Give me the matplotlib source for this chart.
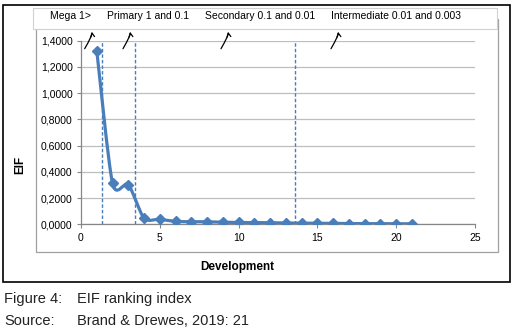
import numpy as np
import matplotlib
matplotlib.use("Agg")
import matplotlib.pyplot as plt
from matplotlib.path import Path
from matplotlib.patches import PathPatch, Rectangle
from matplotlib.ticker import FuncFormatter

plt.rcParams['font.family'] = ['Liberation Sans', 'DejaVu Sans']

# data
development = [1, 2, 3, 4, 5, 6, 7, 8, 9, 10, 11, 12, 13, 14, 15, 16, 17, 18, 19, 20, 21]
eif = [1.323, 0.312, 0.303, 0.046, 0.038, 0.022, 0.020, 0.019, 0.016, 0.014, 0.013,
       0.012, 0.010, 0.009, 0.008, 0.007, 0.006, 0.005, 0.005, 0.004, 0.004]
boundaries = [1.33, 3.43, 13.6]
bands = ["Mega 1>", "Primary 1 and 0.1", "Secondary 0.1 and 0.01", "Intermediate 0.01 and 0.003"]
x_ticks = [0, 5, 10, 15, 20, 25]
y_ticks = [0, 0.2, 0.4, 0.6, 0.8, 1.0, 1.2, 1.4]

W, H = 519, 336
BLUE = '#4A7EBB'


def fx(px):
    return px / W


def fy(py):
    return 1 - py / H


fig = plt.figure(figsize=(W / 100, H / 100), dpi=100)
fig.patch.set_facecolor('white')

# outer black frame and the grey chart-area box
fig.add_artist(Rectangle((fx(3), fy(282)), fx(510) - fx(3), fy(5) - fy(282),
                         transform=fig.transFigure, fill=False, edgecolor='black', lw=1.2))
fig.add_artist(Rectangle((fx(36), fy(252)), fx(498) - fx(36), fy(19) - fy(252),
                         transform=fig.transFigure, fill=False, edgecolor='#A0A0A0', lw=0.9))
# header text box
fig.add_artist(Rectangle((fx(33), fy(29)), fx(497) - fx(33), fy(8) - fy(29),
                         transform=fig.transFigure, facecolor='white', edgecolor='#D0D0D0', lw=0.8))

ax = fig.add_axes([fx(81), fy(224.3), fx(475) - fx(81), fy(40.5) - fy(224.3)])
ax.set_xlim(0, 25)
ax.set_ylim(0, 1.4)
ax.set_xticks(x_ticks)
ax.set_yticks(y_ticks)
ax.yaxis.set_major_formatter(FuncFormatter(lambda v, p: f"{v:.4f}".replace('.', ',')))
ax.tick_params(labelsize=7.5, colors='#868686', labelcolor='black', length=3, width=0.8, pad=3)
for s in ['top', 'right']:
    ax.spines[s].set_visible(False)
for s in ['left', 'bottom']:
    ax.spines[s].set_color('#868686')
    ax.spines[s].set_linewidth(0.9)
ax.grid(axis='y', color='#BEBEBE', lw=0.9)
ax.set_axisbelow(True)
ax.patch.set_alpha(0)

for b in boundaries:
    ax.axvline(b, color=BLUE, ls=(0, (2.5, 1.5)), lw=1.0)

# Excel-style smoothed line using Bezier segments through the data points
xs = np.array(development, dtype=float)
ys = np.array(eif, dtype=float)
verts = [(xs[0], ys[0])]
codes = [Path.MOVETO]
t = 1 / 8
for i in range(len(xs) - 1):
    p0 = (xs[i - 1], ys[i - 1]) if i > 0 else (xs[i], ys[i])
    p1 = (xs[i], ys[i])
    p2 = (xs[i + 1], ys[i + 1])
    p3 = (xs[i + 2], ys[i + 2]) if i + 2 < len(xs) else p2
    c1 = (p1[0] + (p2[0] - p0[0]) * t, p1[1] + (p2[1] - p0[1]) * t)
    c2 = (p2[0] - (p3[0] - p1[0]) * t, p2[1] - (p3[1] - p1[1]) * t)
    verts += [c1, c2, p2]
    codes += [Path.CURVE4] * 3
ax.add_patch(PathPatch(Path(verts, codes), fill=False, edgecolor=BLUE, lw=2.3, zorder=3))
ax.plot(development, eif, ls='none', marker='D', ms=5, color=BLUE, zorder=4)

fig.text(fx(20), fy(165), "EIF", rotation=90, fontsize=8.5, fontweight='bold',
         ha='center', va='center')
fig.text(fx(237), fy(267), "Development", fontsize=8.5, fontweight='bold',
         ha='center', va='center')

# band labels across the top
band_x = [50, 107, 205, 331]
for bx, lab in zip(band_x, bands):
    fig.text(fx(bx), fy(16), lab, fontsize=7.5, ha='left', va='center')

# hand-drawn pointers
tips = [(91.7, 31.7), (130, 31.7), (228, 31.7), (338, 31.7)]
for tx, ty in tips:
    ax.annotate("", xy=(fx(tx), fy(ty)), xytext=(fx(tx - 7), fy(ty + 17)),
                xycoords='figure fraction', textcoords='figure fraction',
                arrowprops=dict(arrowstyle='->', color='black', lw=0.9,
                                connectionstyle='angle3,angleA=60,angleB=100',
                                shrinkA=0, shrinkB=0, mutation_scale=7),
                annotation_clip=False)

fig.text(fx(4), fy(299), "Figure 4:", fontsize=10.5, ha='left', va='center', color='#222222')
fig.text(fx(77), fy(299), "EIF ranking index", fontsize=10.5, ha='left', va='center', color='#222222')
fig.text(fx(4), fy(321), "Source:", fontsize=10.5, ha='left', va='center', color='#222222')
fig.text(fx(77), fy(321), "Brand & Drewes, 2019: 21", fontsize=10.5, ha='left', va='center', color='#222222')

fig.savefig("out.png", dpi=100)
